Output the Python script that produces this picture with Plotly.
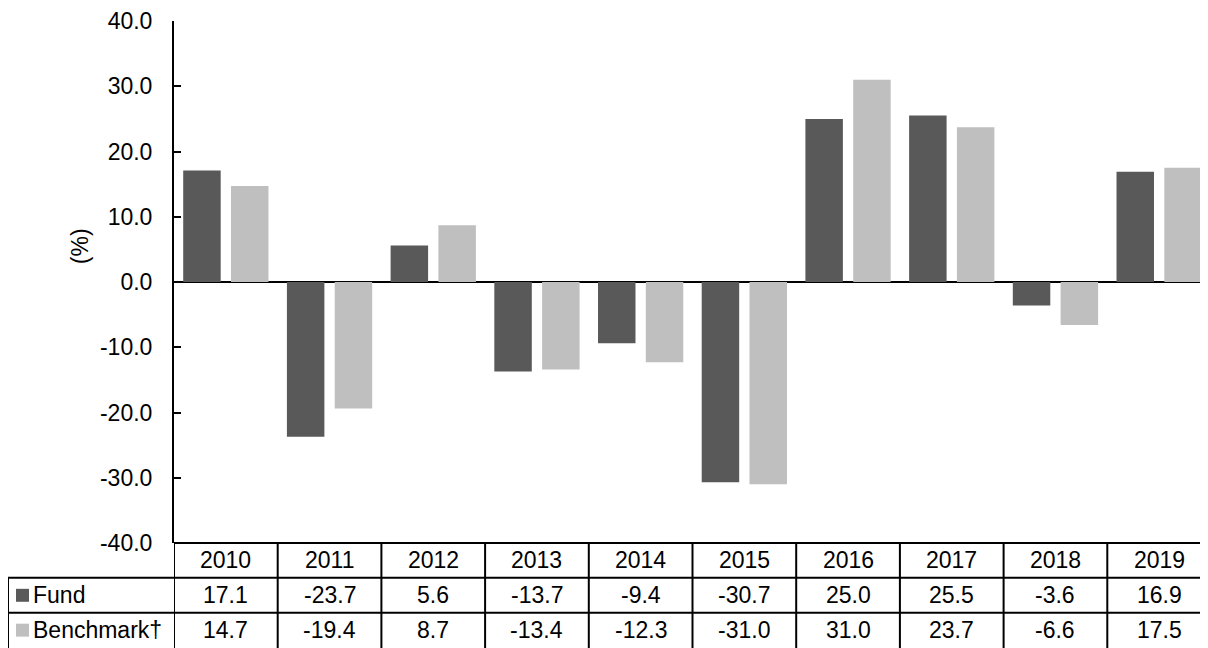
import plotly.graph_objects as go

years = ["2010", "2011", "2012", "2013", "2014", "2015", "2016", "2017", "2018", "2019"]
fund = [17.1, -23.7, 5.6, -13.7, -9.4, -30.7, 25.0, 25.5, -3.6, 16.9]
benchmark = [14.7, -19.4, 8.7, -13.4, -12.3, -31.0, 31.0, 23.7, -6.6, 17.5]
series_names = ["Fund", "Benchmark†"]
series_colors = ["#595959", "#bfbfbf"]
y_ticks = [-40, -30, -20, -10, 0, 10, 20, 30, 40]

OFF = 8  # default page body margin
W, H = 1203, 641
L, R, T, B = 166, 0, 11, 106
PW, PH = W - L - R, H - T - B
FONT = "Liberation Sans, Arial, sans-serif"
FS = 23


def px_x(p):
    return (p - OFF - L) / PW


def px_y(p):
    return (OFF + H - B - p) / PH


fig = go.Figure()
xs = list(range(len(years)))
fig.add_trace(go.Bar(x=xs, y=fund, name=series_names[0], marker=dict(color=series_colors[0], line=dict(width=0))))
fig.add_trace(go.Bar(x=xs, y=benchmark, name=series_names[1], marker=dict(color=series_colors[1], line=dict(width=0))))

shapes = []
ann = []
LW = 2
row_h = 35
top = OFF + H - B  # 543
shapes.append(dict(type="line", xref="paper", yref="paper", x0=0, x1=1, y0=0, y1=0,
                   line=dict(color="black", width=LW)))
for k in (1, 2):
    yy = px_y(top + k * row_h)
    shapes.append(dict(type="line", xref="paper", yref="paper", x0=px_x(8), x1=1, y0=yy, y1=yy,
                       line=dict(color="black", width=LW)))
ybot = px_y(OFF + H + 10)
for i in range(len(years)):
    xb = i - 0.5
    shapes.append(dict(type="line", xref="x", yref="paper", x0=xb, x1=xb, y0=0, y1=ybot,
                       line=dict(color="black", width=LW)))
shapes.append(dict(type="line", xref="paper", yref="paper", x0=px_x(8), x1=px_x(8),
                   y0=px_y(top + row_h), y1=ybot, line=dict(color="black", width=LW)))

for i, yr in enumerate(years):
    ann.append(dict(x=i, y=px_y(top + row_h / 2), xref="x", yref="paper", text=yr, showarrow=False,
                    xanchor="center", yanchor="middle", font=dict(size=FS, color="black", family=FONT)))
for r, vals in enumerate([fund, benchmark]):
    cy = px_y(top + row_h * (r + 1) + row_h / 2)
    for i, v in enumerate(vals):
        ann.append(dict(x=i, y=cy, xref="x", yref="paper", text=f"{v:.1f}", showarrow=False,
                        xanchor="center", yanchor="middle", font=dict(size=FS, color="black", family=FONT)))
    sq = 13
    ccy = top + row_h * (r + 1) + row_h / 2
    shapes.append(dict(type="rect", xref="paper", yref="paper",
                       x0=px_x(16), x1=px_x(16 + sq),
                       y0=px_y(ccy - sq / 2), y1=px_y(ccy + sq / 2),
                       fillcolor=series_colors[r], line=dict(width=0)))
    ann.append(dict(x=px_x(31), y=cy, xref="paper", yref="paper", text=series_names[r], showarrow=False,
                    xanchor="left", yanchor="middle", font=dict(size=FS, color="black", family=FONT)))

ann.append(dict(x=px_x(80), y=px_y(245), xref="paper", yref="paper", text="(%)", showarrow=False,
                textangle=-90, xanchor="center", yanchor="middle",
                font=dict(size=FS, color="black", family=FONT)))

fig.update_layout(
    width=W, height=H,
    margin=dict(l=L, r=R, t=T, b=B, pad=0),
    paper_bgcolor="white", plot_bgcolor="white",
    barmode="group", bargap=0.078, bargroupgap=0.216,
    showlegend=False,
    font=dict(family=FONT, size=FS, color="black"),
    xaxis=dict(range=[-0.5, len(years) - 0.5], showticklabels=False, ticks="", showgrid=False,
               zeroline=False, showline=False),
    yaxis=dict(range=[-40, 40], tickvals=y_ticks, ticktext=[f"{v:.1f}" for v in y_ticks],
               ticks="inside", ticklen=7, tickwidth=2, tickcolor="black",
               showline=True, linecolor="black", linewidth=2,
               showgrid=False, zeroline=True, zerolinecolor="black", zerolinewidth=2,
               ticklabelstandoff=15, ticklabeloverflow="allow",
               tickfont=dict(size=FS, color="black", family=FONT)),
    shapes=shapes, annotations=ann,
)

fig.write_html("out.html")
